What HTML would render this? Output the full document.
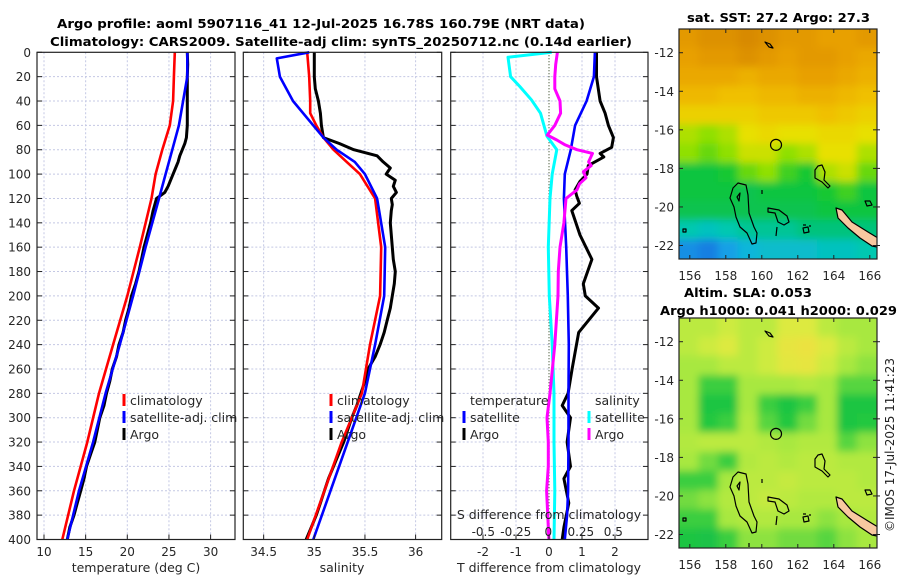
<!DOCTYPE html>
<html><head><meta charset="utf-8"><style>
html,body{margin:0;padding:0;background:#fff;}
svg{display:block;font-family:"DejaVu Sans","Liberation Sans",sans-serif;}
</style></head><body>
<svg id="fig" width="900" height="580" viewBox="0 0 900 580" xmlns="http://www.w3.org/2000/svg">
<defs>
<filter id="blur" filterUnits="userSpaceOnUse" x="600" y="0" width="300" height="580"><feGaussianBlur stdDeviation="4"/></filter>
<clipPath id="clipTop"><rect x="679" y="29" width="198" height="230"/></clipPath>
<clipPath id="clipBot"><rect x="679" y="318" width="198" height="230"/></clipPath>
</defs>
<text x="57" y="28" font-size="12.5" font-weight="bold" textLength="528" lengthAdjust="spacingAndGlyphs">Argo profile: aoml 5907116_41 12-Jul-2025 16.78S 160.79E (NRT data)</text>
<text x="50" y="46" font-size="12.5" font-weight="bold" textLength="582" lengthAdjust="spacingAndGlyphs">Climatology: CARS2009. Satellite-adj clim: synTS_20250712.nc (0.14d earlier)</text>
<text x="687" y="22" font-size="12.5" font-weight="bold" textLength="183" lengthAdjust="spacingAndGlyphs">sat. SST: 27.2 Argo: 27.3</text>
<text x="684" y="297" font-size="12.5" font-weight="bold" textLength="128" lengthAdjust="spacingAndGlyphs">Altim. SLA: 0.053</text>
<text x="660" y="315" font-size="12.5" font-weight="bold" textLength="237" lengthAdjust="spacingAndGlyphs">Argo h1000: 0.041 h2000: 0.029</text>
<text transform="translate(894,445) rotate(-90)" text-anchor="middle" font-size="12" fill="#222">©IMOS 17-Jul-2025 11:41:23</text>
</svg>
<script>
// ---------- data ----------
const depthTicks = [0,20,40,60,80,100,120,140,160,180,200,220,240,260,280,300,320,340,360,380,400];
const tempTicks = [10,15,20,25,30];
const salTicks = [34.5,35,35.5,36];
const sTickLabels = ["34.5","35","35.5","36"];
const tDiffTicks = [-2,-1,0,1,2];
const sDiffTicks = [-0.5,-0.25,0,0.25,0.5];
const sDiffLabels = ["-0.5","-0.25","0","0.25","0.5"];

const climDepths = [0,20,40,60,80,100,120,160,200,240,280,320,360,400];
const tempClim = [25.7,25.6,25.5,25.1,24.2,23.4,22.9,21.5,20.0,18.3,16.6,15.2,13.6,12.2];
const tempSat = [27.2,27.2,26.7,26.2,25.4,24.6,23.8,22.2,20.7,19.1,17.4,15.9,14.2,12.8];

const argoDepths = [0,10,20,30,40,50,60,70,75,80,85,90,95,100,105,110,115,120,125,130,140,150,160,170,180,190,200,210,220,230,240,250,260,270,280,290,300,310,320,330,340,350,360,370,380,390,400];
const tempArgo = [27.2,27.25,27.2,27.2,27.2,27.2,27.2,27.1,26.9,26.6,26.3,26.1,25.8,25.5,25.2,24.9,24.5,23.5,23.3,23.1,22.8,22.4,22.0,21.7,21.4,21.0,20.5,20.2,19.8,19.5,19.0,18.7,18.2,17.9,17.5,17.2,16.7,16.4,16.1,15.6,15.1,14.8,14.4,14.0,13.6,13.1,12.8];
const salArgo = [35.0,35.0,35.0,35.01,35.04,35.06,35.07,35.09,35.25,35.39,35.62,35.68,35.75,35.71,35.8,35.78,35.81,35.76,35.77,35.76,35.75,35.76,35.77,35.78,35.8,35.79,35.77,35.75,35.72,35.69,35.65,35.6,35.53,35.5,35.46,35.42,35.37,35.33,35.29,35.24,35.19,35.14,35.1,35.06,35.02,34.97,34.92];

const salClimDepths = [0,20,40,50,60,70,80,90,100,120,160,200,240,280,320,360,400];
const salClim = [34.93,34.95,34.96,34.96,35.02,35.09,35.19,35.32,35.45,35.6,35.66,35.65,35.55,35.47,35.27,35.1,34.93];
const salSatDepths = [0,5,20,40,60,70,80,90,100,120,160,200,240,280,320,360,400];
const salSat = [34.95,34.63,34.66,34.79,34.99,35.09,35.22,35.4,35.5,35.62,35.7,35.69,35.6,35.5,35.33,35.16,34.99];

const sSatDiffDepths = [0,4,20,28,39,50,69,80,100,120,160,200,240,280,320,360,400];
const sSatDiff = [0.026,-0.31,-0.29,-0.22,-0.13,-0.06,-0.01,0.065,0.03,0.013,0,0.008,0.03,0.044,0.044,0.05,0.044];
const sArgoDiffDepths = [0,10,20,30,40,50,60,68,72,76,80,83,90,93,98,103,108,113,120,140,160,180,200,240,280,300,320,340,360,400];
const sArgoDiff = [0.07,0.057,0.05,0.05,0.09,0.095,0.05,-0.008,0.065,0.13,0.22,0.34,0.31,0.33,0.27,0.29,0.24,0.22,0.136,0.12,0.09,0.077,0.075,0.05,0.013,-0.01,0,0,-0.013,0.005];
const tSatDiffDepths = [0,20,40,60,80,100,120,160,200,240,280,320,360,380,400];
const tSatDiff = [1.39,1.36,1.14,0.79,0.66,0.48,0.45,0.52,0.57,0.6,0.59,0.59,0.58,0.55,0.48];
const tArgoDiffDepths = [0,20,40,50,60,70,78,83,86,93,100,106,113,118,124,130,150,170,190,200,210,230,260,280,290,300,320,340,350,370,390,400];
const tArgoDiff = [1.44,1.44,1.55,1.7,1.8,1.95,1.9,1.55,1.66,1.19,1.15,0.94,0.79,0.84,0.92,0.69,0.94,1.3,1.04,1.1,1.5,0.9,0.7,0.58,0.4,0.65,0.55,0.65,0.45,0.6,0.45,0.4];

const latTicks = [-12,-14,-16,-18,-20,-22];
const lonTicks = [156,158,160,162,164,166];
const sstGrid = [
[28.1,28.2,28.2,28.3,28.2,28.1,28.1,28.0,28.0,28.1],
[28.0,28.1,28.1,28.2,28.1,28.0,28.1,28.1,28.0,27.9],
[27.9,27.9,27.9,27.8,27.9,27.9,28.0,28.0,27.9,27.8],
[27.7,27.7,27.6,27.6,27.7,27.7,27.8,27.8,27.7,27.6],
[27.4,27.4,27.4,27.4,27.5,27.5,27.5,27.6,27.5,27.4],
[27.0,26.9,27.0,27.2,27.3,27.2,27.2,27.3,27.3,27.2],
[26.9,26.8,26.9,27.1,27.1,26.9,27.0,27.2,27.2,27.0],
[26.5,26.5,26.6,26.8,26.9,26.7,26.6,27.0,27.1,26.8],
[26.5,26.5,26.5,26.4,26.5,26.5,26.5,26.6,26.7,26.5],
[26.4,26.4,26.4,26.4,26.4,26.4,26.4,26.5,26.5,26.5],
[26.0,25.9,26.0,26.1,26.1,26.1,26.2,26.2,26.2,26.2],
[25.4,25.3,25.5,25.7,25.8,25.8,25.8,25.9,25.9,26.0]];
const slaGrid = [
[0.6,0.6,0.7,0.6,0.6,0.8,0.8,0.6,0.5,0.5],
[0.6,0.7,0.8,0.6,0.7,0.9,0.95,0.8,0.6,0.5],
[0.5,0.5,0.6,0.6,0.7,0.85,0.9,0.7,0.5,0.45],
[0.5,0.3,0.3,0.5,0.5,0.5,0.55,0.5,0.35,0.35],
[0.5,0.2,0.2,0.5,0.3,0.2,0.3,0.5,0.2,0.2],
[0.5,0.25,0.3,0.55,0.35,0.25,0.4,0.5,0.2,0.25],
[0.55,0.6,0.6,0.6,0.55,0.5,0.55,0.55,0.35,0.45],
[0.5,0.4,0.3,0.55,0.6,0.55,0.6,0.6,0.55,0.55],
[0.3,0.3,0.5,0.6,0.6,0.65,0.6,0.6,0.6,0.55],
[0.4,0.45,0.55,0.6,0.65,0.6,0.55,0.55,0.6,0.6],
[0.3,0.3,0.5,0.55,0.55,0.5,0.5,0.45,0.5,0.55],
[0.2,0.15,0.3,0.45,0.45,0.4,0.4,0.35,0.45,0.5]];
const argoLon = 160.79;
const argoLat = -16.78;

// ---------- helpers ----------
const NS = "http://www.w3.org/2000/svg";
const svg = document.getElementById('fig');
function mk(tag, attrs, parent) {
  const e = document.createElementNS(NS, tag);
  for (const k in attrs) e.setAttribute(k, attrs[k]);
  (parent || svg).appendChild(e);
  return e;
}
const Y0 = 52.3, Y1 = 539.5;
const yD = d => Y0 + (d / 400) * (Y1 - Y0);
const xT = t => 44 + (t - 10) * 8.33;
const xS = s => 314.3 + (s - 35) * 101.3;
const xTd = t => 549 + t * 33;
const xSd = s => 548.3 + s * 130;
function pts(depths, vals, fx) { return depths.map((d, i) => fx(vals[i]).toFixed(1) + ',' + yD(d).toFixed(1)).join(' '); }

const panels = [[37, 235], [243.3, 441.7], [450.7, 648]];
const gridG = mk('g', {});


panels.forEach(([a, b]) => {
  depthTicks.forEach(d => {
    if (d === 0 || d === 400) return;
    const l = mk('line', {x1: a, x2: b, y1: yD(d), y2: yD(d), stroke: '#c4c8e4', 'stroke-width': 1, 'stroke-dasharray': '2,2'}, gridG);
    
    
  });
});
function vgrid(xs) {
  xs.forEach(x => {
    const l = mk('line', {x1: x, x2: x, y1: Y0, y2: Y1, stroke: '#c4c8e4', 'stroke-width': 1, 'stroke-dasharray': '2,2'}, gridG);
    
    
  });
}
vgrid(tempTicks.map(xT));
vgrid(salTicks.map(xS));
vgrid(tDiffTicks.filter(v => v !== 0).map(xTd));
const zl = mk('line', {x1: xTd(0), x2: xTd(0), y1: Y0, y2: Y1, stroke: '#445533', 'stroke-width': 1.2, 'stroke-dasharray': '1,2'});



function series(depths, vals, fx, color, w, name) {
  const p = mk('polyline', {points: pts(depths, vals, fx), fill: 'none', stroke: color, 'stroke-width': w, 'stroke-linejoin': 'round'});
  
  
}
series(climDepths, tempClim, xT, '#ff0000', 2.6, 'temp-climatology-line');
series(argoDepths, tempArgo, xT, '#000', 3, 'temp-argo-line');
series(climDepths, tempSat, xT, '#0000ff', 2.6, 'temp-satellite-line');
series(argoDepths, salArgo, xS, '#000', 3, 'sal-argo-line');
series(salClimDepths, salClim, xS, '#ff0000', 2.6, 'sal-climatology-line');
series(salSatDepths, salSat, xS, '#0000ff', 2.6, 'sal-satellite-line');
series(tArgoDiffDepths, tArgoDiff, xTd, '#000', 3, 'tdiff-argo-line');
series(tSatDiffDepths, tSatDiff, xTd, '#0000ff', 2.6, 'tdiff-satellite-line');
series(sSatDiffDepths, sSatDiff, xSd, '#00ffff', 3, 'sdiff-satellite-line');
series(sArgoDiffDepths, sArgoDiff, xSd, '#ff00ff', 3, 'sdiff-argo-line');

function txt(x, y, s, size, anchor, name, parent) {
  const t = mk('text', {x: x, y: y, 'font-size': size, 'text-anchor': anchor || 'start', fill: '#262626'}, parent);
  t.textContent = s;
  
  
  return t;
}
panels.forEach(([a, b]) => {
  const r = mk('rect', {x: a, y: Y0, width: b - a, height: Y1 - Y0, fill: 'none', stroke: '#222', 'stroke-width': 1.2});
  
  
  depthTicks.forEach(d => {
    const t1 = mk('line', {x1: a, x2: a + 5, y1: yD(d), y2: yD(d), stroke: '#222'});
    
    
    const t2 = mk('line', {x1: b - 5, x2: b, y1: yD(d), y2: yD(d), stroke: '#222'});
    
    
  });
});
depthTicks.forEach(d => txt(31, yD(d) + 4.5, String(d), 12, 'end', 'depth-tick-label'));
function xticks(vals, fx, labels, name) {
  vals.forEach((v, i) => {
    const x = fx(v);
    const t = mk('line', {x1: x, x2: x, y1: Y1 - 5, y2: Y1, stroke: '#222'});
    
    
    txt(x, 556, labels[i], 12, 'middle', name);
  });
}
xticks(tempTicks, xT, tempTicks.map(String), 'temp-tick-label');
xticks(salTicks, xS, sTickLabels, 'sal-tick-label');
xticks(tDiffTicks, xTd, tDiffTicks.map(String), 'tdiff-tick-label');
sDiffTicks.forEach((v, i) => txt(xSd(v), 536, sDiffLabels[i], 12, 'middle', 'sdiff-tick-label'));
txt(136, 572, 'temperature (deg C)', 12.5, 'middle', 'temp-axis-title');
txt(342, 572, 'salinity', 12.5, 'middle', 'sal-axis-title');
txt(549, 572, 'T difference from climatology', 12.5, 'middle', 'tdiff-axis-title');
txt(549, 519, 'S difference from climatology', 12.5, 'middle', 'sdiff-axis-title');

function legendEntry(mx, y, color, label, name) {
  const m = mk('line', {x1: mx, x2: mx, y1: y - 11, y2: y + 1, stroke: color, 'stroke-width': 3});
  
  
  txt(mx + 6, y, label, 12.5, 'start', name);
}
legendEntry(124, 405, '#ff0000', 'climatology', 'legend-climatology');
legendEntry(124, 422, '#0000ff', 'satellite-adj. clim', 'legend-satellite');
legendEntry(124, 439, '#000', 'Argo', 'legend-argo');
legendEntry(331, 405, '#ff0000', 'climatology', 'legend-climatology');
legendEntry(331, 422, '#0000ff', 'satellite-adj. clim', 'legend-satellite');
legendEntry(331, 439, '#000', 'Argo', 'legend-argo');
txt(470, 405, 'temperature', 12.5, 'start', 'legend-temperature-heading');
legendEntry(464, 422, '#0000ff', 'satellite', 'legend-temp-satellite');
legendEntry(464, 439, '#000', 'Argo', 'legend-temp-argo');
txt(595, 405, 'salinity', 12.5, 'start', 'legend-salinity-heading');
legendEntry(589, 422, '#00ffff', 'satellite', 'legend-sal-satellite');
legendEntry(589, 439, '#ff00ff', 'Argo', 'legend-sal-argo');

// ---------- maps ----------
const MX0 = 679, MX1 = 877, LON0 = 155.4, LON1 = 166.4, LAT0 = -10.77, LAT1 = -22.7;
const mxLon = lon => MX0 + (lon - LON0) / (LON1 - LON0) * (MX1 - MX0);
function myLat(lat, top) { return top + (LAT0 - lat) / (LAT0 - LAT1) * 230; }
function lerpColor(stops, v) {
  if (v <= stops[0][0]) return stops[0][1];
  for (let i = 1; i < stops.length; i++) {
    if (v <= stops[i][0]) {
      const [a, ca] = stops[i - 1], [b, cb] = stops[i];
      const f = (v - a) / (b - a);
      const pa = [1,3,5].map(k => parseInt(ca.substr(k, 2), 16)), pb = [1,3,5].map(k => parseInt(cb.substr(k, 2), 16));
      return 'rgb(' + pa.map((c, j) => Math.round(c + (pb[j] - c) * f)).join(',') + ')';
    }
  }
  return stops[stops.length - 1][1];
}
const sstStops = [[25.2,'#1a6fe0'],[25.6,'#10b0e8'],[26.0,'#00c8b0'],[26.3,'#00c060'],[26.6,'#18c830'],[26.9,'#90e000'],[27.2,'#e8e000'],[27.6,'#f0c000'],[28.0,'#e8a000'],[28.3,'#d88a00']];
const slaStops = [[0,'#10b850'],[0.25,'#20c840'],[0.5,'#a8e840'],[0.75,'#d8ec40'],[1,'#f0e040']];
function heat(grid, stops, top, clip, name) {
  const outer = mk('g', {'clip-path': 'url(#' + clip + ')'});
  
  
  const g = mk('g', {filter: 'url(#blur)'}, outer);
  const nc = grid[0].length, nr = grid.length;
  const cw = (MX1 - MX0) / nc, ch = 230 / nr, pad = 14;
  grid.forEach((row, r) => row.forEach((v, c) => {
    let x = MX0 + c * cw - 0.5, y = top + r * ch - 0.5, w = cw + 1, h = ch + 1;
    if (c === 0) { x -= pad; w += pad; }
    if (c === nc - 1) { w += pad; }
    if (r === 0) { y -= pad; h += pad; }
    if (r === nr - 1) { h += pad; }
    const cell = mk('rect', {x: x, y: y, width: w, height: h, fill: lerpColor(stops, v)}, g);
    
    
  }));
  return outer;
}
const coast = [
 {d:'M738,183 L746,185 L748,195 L749,213 L754,227 L757,233 L756,243 L752,244 L747,233 L740,227 L736,217 L734,207 L730,198 L733,188 Z', fill:'none'},
 {d:'M737,197 L740,193 L739,201 Z', fill:'none'},
 {d:'M768,208 L779,210 L787,216 L789,222 L784,225 L778,222 L775,213 L768,212 Z', fill:'none'},
 {d:'M777,227 L776,236', fill:'none'},
 {d:'M818,166 L822,165 L825,172 L824,180 L830,186 L828,188 L822,182 L815,178 L815,170 Z', fill:'none'},
 {d:'M836,208 L842,210 L852,222 L868,232 L878,238 L877,247 L872,246 L860,238 L848,228 L838,218 Z', fill:'#f8c8a0'},
 {d:'M803,225 L806,225 M809,226 L811,226', fill:'none'},
 {d:'M803,228 L808,227 L809,232 L804,233 Z', fill:'none'},
 {d:'M765,42 L770,44 L773,48 L769,47 Z', fill:'none'},
 {d:'M865,201 L870,201 L872,205 L867,206 Z', fill:'none'},
 {d:'M762,190 L762,194', fill:'none'},
 {d:'M683,229 L686,229 L686,232 L683,232 Z', fill:'none'},
 {d:'M749,254 L749,258', fill:'none'}
];
function drawMap(grid, stops, top, clip, prefix) {
  heat(grid, stops, top, clip, prefix + '-heatmap');
  const cg = mk('g', {transform: 'translate(0,' + (top - 29) + ')', 'clip-path': 'url(#' + clip + 'C)'});
  
  
  coast.forEach(c => {
    const p = mk('path', {d: c.d, fill: c.fill, stroke: '#000', 'stroke-width': 1.2, 'stroke-linejoin': 'round'}, cg);
    
    
  });
  const circ = mk('circle', {cx: mxLon(argoLon), cy: myLat(argoLat, top), r: 5.5, fill: 'none', stroke: '#000', 'stroke-width': 1.2});
  
  
  const fr = mk('rect', {x: MX0, y: top, width: MX1 - MX0, height: 230, fill: 'none', stroke: '#222', 'stroke-width': 1.2});
  
  
  latTicks.forEach(lat => {
    const y = myLat(lat, top);
    const a = mk('line', {x1: MX0, x2: MX0 + 4, y1: y, y2: y, stroke: '#222'});
    
    
    const b = mk('line', {x1: MX1 - 4, x2: MX1 + 3, y1: y, y2: y, stroke: '#222'});
    
    
    txt(674, y + 4.5, String(lat), 12, 'end', prefix + '-lat-label');
  });
  lonTicks.forEach(lon => {
    const x = mxLon(lon);
    const a = mk('line', {x1: x, x2: x, y1: top + 230 - 4, y2: top + 230, stroke: '#222'});
    
    
    const b = mk('line', {x1: x, x2: x, y1: top, y2: top + 4, stroke: '#222'});
    
    
    txt(x, top + 251, String(lon), 12, 'middle', prefix + '-lon-label');
  });
}
const defs = svg.querySelector('defs');
const c1 = mk('clipPath', {id: 'clipTopC'}, defs);
mk('rect', {x: 679, y: 29, width: 198, height: 230}, c1);
const c2 = mk('clipPath', {id: 'clipBotC'}, defs);
mk('rect', {x: 679, y: 29, width: 198, height: 230}, c2);
drawMap(sstGrid, sstStops, 29, 'clipTop', 'sst');
drawMap(slaGrid, slaStops, 318, 'clipBot', 'sla');
</script>
</body></html>
